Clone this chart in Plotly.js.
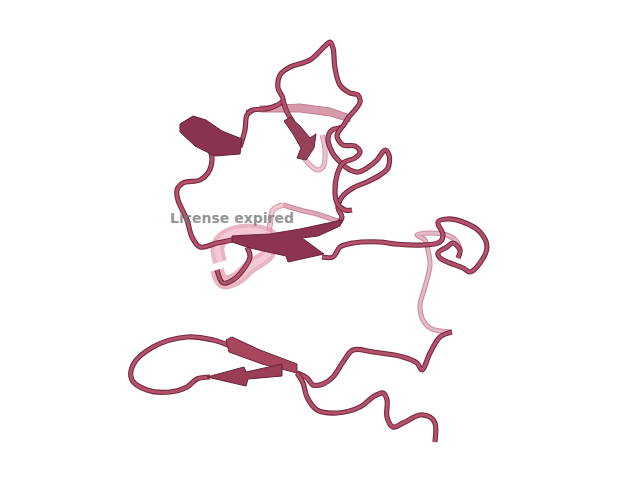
<!DOCTYPE html>
<html>
<head>
<meta charset="utf-8">
<script src="https://cdn.plot.ly/plotly-3.0.1.min.js"></script>
<style>
  html, body { margin: 0; padding: 0; background: #fff; }
  #plot { width: 640px; height: 480px; }
</style>
</head>
<body>
<div id="plot"></div>
<script>
// backbone traces, [x, y] in picture units (y grows downward)
const topLoop = [[247,113],[253,110],[270,108],[283,100],[278,88],[280,75],[290,67],[310,60],[325,46],[330,42],[333,48],[335,68],[340,85],[350,93],[358,95],[360,102],[355,110],[348,118],[342,127],[332,130],[328,138],[332,152],[340,162],[350,170],[358,172],[367,168],[377,160],[385,150],[389,155],[388,168],[380,175],[367,182],[353,188],[342,197],[338,208],[342,217],[338,224]];
const innerLoop = [[283,100],[287,112],[293,122]];
const crossLoop = [[342,127],[337,136],[343,145],[355,146],[360,152],[355,158],[343,163],[337,175],[335,192],[337,203],[345,210],[352,210]];
const leftChain = [[232,240],[217,243],[200,247],[192,237],[187,220],[178,200],[177,190],[183,183],[200,180],[208,173],[212,160],[210,150]];
const strandExit = [[240,147],[245,130],[247,115],[253,110]];
const midChain = [[322,257],[333,257],[340,247],[353,243],[380,242],[395,244],[423,245],[440,242],[443,235],[438,222],[447,219],[463,222],[480,232],[487,247],[480,263],[470,272],[463,268],[450,263],[440,258],[438,253],[447,247],[453,243],[460,250],[458,258]];
const helixTube = [[247,247],[250,257],[243,270],[233,280],[223,283],[217,270]];
const rightChain = [[297,373],[307,378],[313,385],[323,384],[333,377],[343,362],[353,350],[373,352],[403,357],[417,363],[422,370],[430,353],[440,337],[452,332]];
const cTerm = [[297,373],[303,383],[307,397],[317,410],[337,413],[360,407],[373,397],[383,393],[387,400],[387,417],[393,427],[403,423],[420,415],[430,417],[435,423],[435,442]];
const lowerLoop = [[210,377],[197,379],[187,387],[170,392],[147,390],[132,380],[133,365],[153,347],[187,337],[213,340],[228,345]];

// faint parts lying behind
const backChain = [[452,332],[440,331],[430,328],[422,318],[420,305],[425,287],[430,265],[428,250],[425,240],[417,235],[430,233],[447,235],[457,242],[460,250]];
const backBand = [[260,106],[300,104],[330,108],[350,115],[350,122],[330,116],[300,112],[260,112]];
const backTube = [[303,157],[310,165],[317,170],[323,167],[325,150],[322,135]];
const helixBack = [[283,205],[273,210],[270,225],[268,240]];
const helixFront = [[220,262],[218,245],[230,234],[255,231],[272,238],[268,254],[250,267],[236,279],[223,282],[217,270]];
const strandBehind = [[283,205],[300,210],[320,215],[340,222]];

// sheets (flat strands)
const bigStrand = [[232,236],[270,234],[300,229],[328,223],[342,220],[340,226],[318,236],[302,238],[324,254],[288,262],[286,256],[250,248],[232,242]];
const topStrand = [[180,124],[193,116],[206,120],[222,131],[242,139],[240,154],[215,156],[195,146],[180,132]];
const smallStrand = [[284,121],[290,117],[300,126],[310,138],[316,134],[314,148],[306,160],[297,158],[301,148],[293,134]];
const upperSheet = [[226,340],[232,337],[260,350],[297,364],[297,373],[262,364],[229,352]];
const lowerSheet = [[282,364],[282,376],[248,379],[246,386],[207,377],[244,367],[246,372]];

const watermark = 'License expired';

function xs(p) { return p.map(d => d[0]); }
function ys(p) { return p.map(d => d[1]); }

function tube(p, edge, body, w) {
    return [
        { x: xs(p), y: ys(p), mode: 'lines', line: { color: edge, width: w + 1.6, shape: 'spline', smoothing: 1 } },
        { x: xs(p), y: ys(p), mode: 'lines', line: { color: body, width: w - 0.6, shape: 'spline', smoothing: 1 } }
    ];
}

function sheet(p, face, edge) {
    return {
        x: xs(p).concat([p[0][0]]), y: ys(p).concat([p[0][1]]),
        mode: 'lines', fill: 'toself', fillcolor: face,
        line: { color: edge, width: 1 }
    };
}

var data = [];
// back layer
data = data.concat(tube(backChain, '#c9909f', '#e3b9c4', 3.5));
data.push(sheet(backBand, '#d79aab', '#c07f92'));
data = data.concat(tube(backTube, '#d29aa9', '#ecc4ce', 3.5));
data = data.concat(tube(strandBehind, '#c98a9c', '#e1aab9', 3.5));
data = data.concat(tube(helixBack, '#d7a0af', '#f0c8d2', 4));
data.push({ x: xs(helixFront), y: ys(helixFront), mode: 'lines',
    line: { color: 'rgba(222,150,170,0.7)', width: 14, shape: 'spline', smoothing: 1 } });
data.push({ x: xs(helixFront), y: ys(helixFront), mode: 'lines',
    line: { color: 'rgba(246,206,216,0.8)', width: 6, shape: 'spline', smoothing: 1 } });

// front chain
const edge = '#76293f', body = '#b3526d';
[topLoop, innerLoop, crossLoop, leftChain, strandExit, midChain, helixTube,
 rightChain, cTerm, lowerLoop].forEach((p) => {
    data = data.concat(tube(p, edge, body, 3.6));
});

data.push(sheet(bigStrand, '#8d3550', '#6a2439'));
data.push(sheet(topStrand, '#8a3350', '#5e2034'));
data.push(sheet(smallStrand, '#96405a', '#6a2439'));
data.push(sheet(upperSheet, '#a9465f', '#6a2439'));
data.push(sheet(lowerSheet, '#9a3d57', '#6a2439'));

const layout = {
    width: 640,
    height: 480,
    margin: { l: 0, r: 0, t: 0, b: 0 },
    paper_bgcolor: '#ffffff',
    plot_bgcolor: '#ffffff',
    showlegend: false,
    xaxis: { range: [0, 640], visible: false, fixedrange: true },
    yaxis: { range: [480, 0], visible: false, fixedrange: true },
    annotations: [{
        x: 232, y: 218, xref: 'x', yref: 'y',
        text: '<b>' + watermark + '</b>',
        showarrow: false,
        font: { family: 'DejaVu Sans', size: 14, color: 'rgba(120,120,120,0.8)' }
    }]
};

Plotly.newPlot('plot', data.map(t => Object.assign({ type: 'scatter', hoverinfo: 'skip' }, t)), layout, { staticPlot: true });
</script>
</body>
</html>
